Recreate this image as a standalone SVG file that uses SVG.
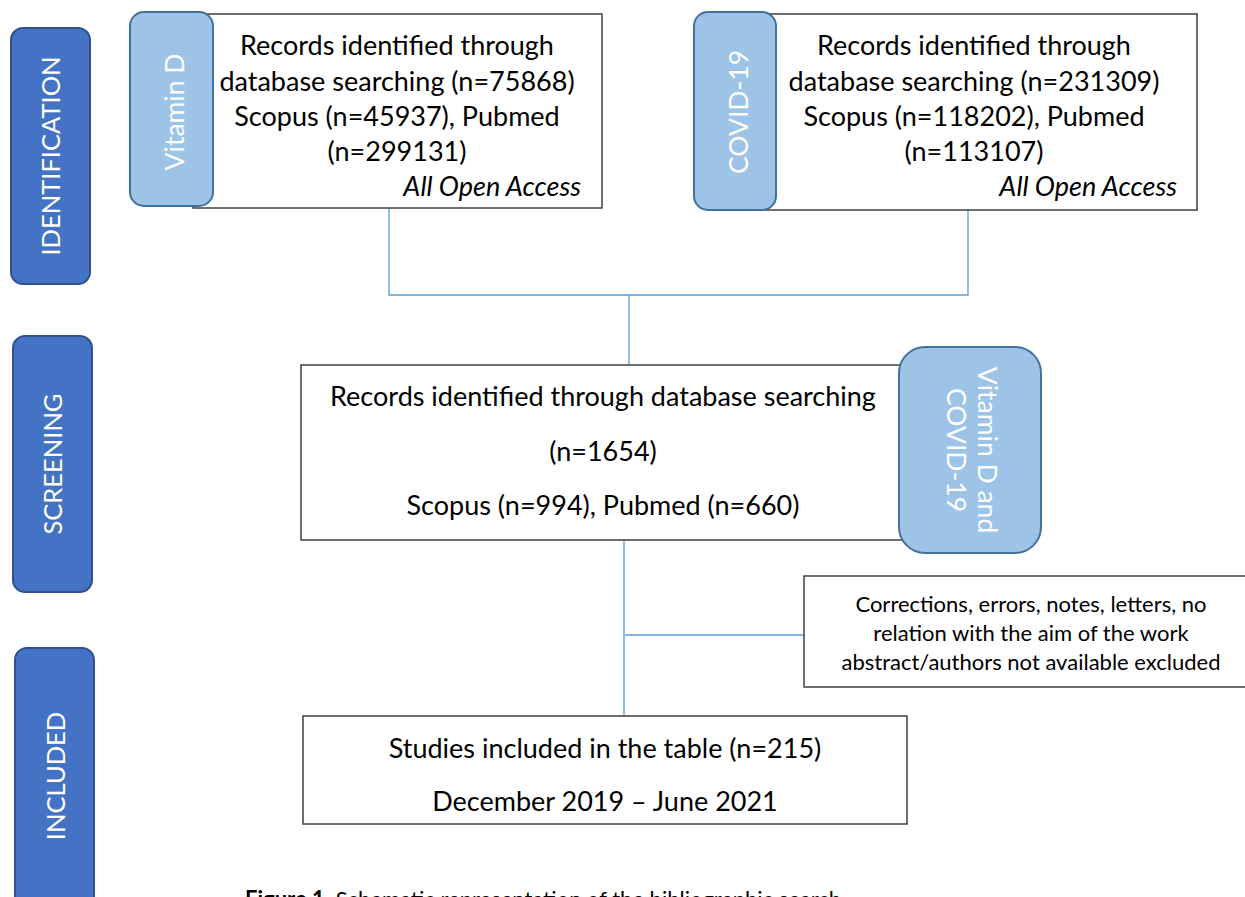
<svg xmlns="http://www.w3.org/2000/svg" width="1245" height="897" viewBox="0 0 1245 897">
<style>
.stage{fill:#4472C4;stroke:#2F528F;stroke-width:2}
.tab{fill:#9DC3E6;stroke:#41719C;stroke-width:2}
.box{fill:#FFFFFF;stroke:#404040;stroke-width:1.5}
.conn{fill:none;stroke:#5B9BD5;stroke-width:1.3}
text{font-family:Lato,"Liberation Sans",sans-serif}
.st{fill:#FFFFFF;font-size:25.5px;text-anchor:middle;dominant-baseline:central}
.tt{fill:#FFFFFF;font-size:26.5px;text-anchor:middle;dominant-baseline:central}
.bt{fill:#000000;font-size:27px;text-anchor:middle;dominant-baseline:central}
.sm{fill:#000000;font-size:22px;text-anchor:middle;dominant-baseline:central}
.it{font-style:italic;text-anchor:end}
</style>
<rect width="1245" height="897" fill="#FFFFFF"/>
<g id="connectors">
<path class="conn" d="M389 208 V295 H968 V210"/>
<path class="conn" d="M629 295 V365"/>
<path class="conn" d="M624 540 V716"/>
<path class="conn" d="M625 635 H804"/>
</g>
<g id="stage-identification">
<rect class="stage" x="11" y="28" width="79" height="256" rx="12"/>
<text class="st" transform="translate(50 156) rotate(-90)">IDENTIFICATION</text>
</g>
<g id="stage-screening">
<rect class="stage" x="13" y="336" width="79" height="256" rx="12"/>
<text class="st" transform="translate(52 464) rotate(-90)">SCREENING</text>
</g>
<g id="stage-included">
<rect class="stage" x="15" y="648" width="79" height="270" rx="12"/>
<text class="st" transform="translate(55 776) rotate(-90)">INCLUDED</text>
</g>
<g id="box-vitd">
<rect class="box" x="193" y="14" width="409" height="194"/>
<text class="bt" x="397" y="44">Records identified through</text>
<text class="bt" x="397" y="80">database searching (n=75868)</text>
<text class="bt" x="397" y="115">Scopus (n=45937), Pubmed</text>
<text class="bt" x="397" y="150">(n=299131)</text>
<text class="bt it" x="581" y="185">All Open Access</text>
</g>
<g id="tab-vitd">
<rect class="tab" x="130" y="12" width="83" height="194" rx="14"/>
<text class="tt" transform="translate(174 112) rotate(-90)">Vitamin D</text>
</g>
<g id="box-covid">
<rect class="box" x="757" y="14" width="440" height="196"/>
<text class="bt" x="974" y="44">Records identified through</text>
<text class="bt" x="974" y="80">database searching (n=231309)</text>
<text class="bt" x="974" y="115">Scopus (n=118202), Pubmed</text>
<text class="bt" x="974" y="150">(n=113107)</text>
<text class="bt it" x="1177" y="185">All Open Access</text>
</g>
<g id="tab-covid">
<rect class="tab" x="694" y="12" width="82" height="198" rx="14"/>
<text class="tt" transform="translate(738 112) rotate(-90)">COVID-19</text>
</g>
<g id="box-screening">
<rect class="box" x="301" y="365" width="605" height="175"/>
<text class="bt" x="603" y="395">Records identified through database searching</text>
<text class="bt" x="603" y="450">(n=1654)</text>
<text class="bt" x="603" y="504">Scopus (n=994), Pubmed (n=660)</text>
</g>
<g id="tab-both">
<rect class="tab" x="899" y="347" width="142" height="206" rx="26"/>
<text class="tt" transform="translate(988 450) rotate(90)">Vitamin D and</text>
<text class="tt" transform="translate(957 450) rotate(90)">COVID-19</text>
</g>
<g id="box-excluded">
<rect class="box" x="804" y="576" width="450" height="111"/>
<text class="sm" x="1031" y="603">Corrections, errors, notes, letters, no</text>
<text class="sm" x="1031" y="632">relation with the aim of the work</text>
<text class="sm" x="1031" y="661">abstract/authors not available excluded</text>
</g>
<g id="box-included">
<rect class="box" x="303" y="716" width="604" height="108"/>
<text class="bt" x="605" y="747">Studies included in the table (n=215)</text>
<text class="bt" x="605" y="800">December 2019 – June 2021</text>
</g>
<g id="caption">
<text x="245" y="907" style="font-family:Lato,'Liberation Sans',sans-serif;font-size:22px;fill:#000"><tspan font-weight="bold">Figure 1.</tspan> Schematic representation of the bibliographic search</text>
</g>
</svg>
